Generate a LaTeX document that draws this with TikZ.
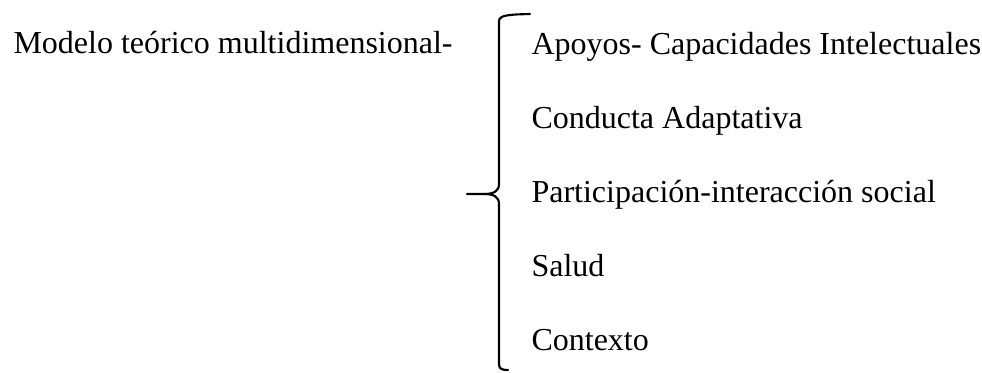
\documentclass[tikz,border=0pt]{standalone}
\usepackage{fontspec}
\setmainfont{Liberation Serif}
\usetikzlibrary{positioning}

\begin{document}
\begin{tikzpicture}
                [x=0.375pt,y=-0.375pt,
                 label/.style={anchor=base west,inner sep=0pt,font=\fontsize{12}{14}\selectfont},
                 brace/.style={line width=0.8pt,line cap=round,line join=round}]

                \useasboundingbox (0,0) rectangle (982,372);

                \node[label] (model) at (13,53) {Modelo teórico multidimensional-};

                \foreach \name/\text [count=\i] in {apoyos/Apoyos- Capacidades Intelectuales,
                                                    conducta/Conducta Adaptativa,
                                                    participacion/Participación-interacción social,
                                                    salud/Salud,
                                                    contexto/Contexto}
                    \node[label] (\name) at (531,{54+74*(\i-1)}) {\text};

                \coordinate (brace top)    at (530,14);
                \coordinate (brace tip)    at (467,194);
                \coordinate (brace bottom) at (508,370);

                \draw[brace] (brace top) .. controls (510,14.5) and (499,15) .. (499,21)
                    -- (499,184) .. controls (499,191) and (494,194) .. (484,194) -- (brace tip);
                \draw[brace] (484,194) .. controls (494,194) and (499,197) .. (499,204)
                    -- (499,364) .. controls (499,369) and (502,370) .. (brace bottom);

            \end{tikzpicture}
\end{document}
